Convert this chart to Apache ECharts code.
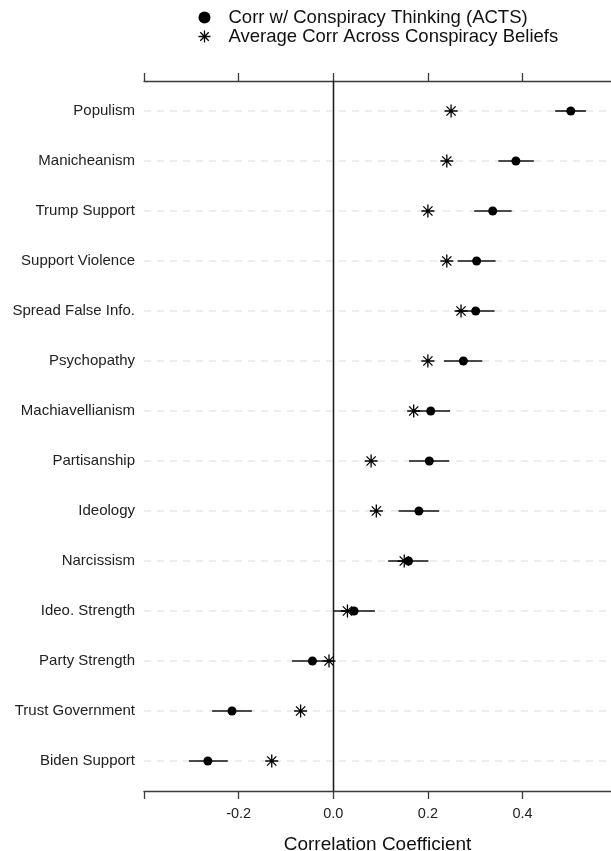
<!DOCTYPE html>
<html>
<head>
<meta charset="utf-8">
<script src="https://cdn.jsdelivr.net/npm/echarts@6/dist/echarts.min.js"></script>
<style>
  html, body { margin: 0; padding: 0; background: #fff; }
  #chart { width: 611px; height: 851px; }
</style>
</head>
<body>
<div id="chart"></div>
<script>
// Predictors, top to bottom
const categories = ['Populism', 'Manicheanism', 'Trump Support', 'Support Violence',
  'Spread False Info.', 'Psychopathy', 'Machiavellianism', 'Partisanship', 'Ideology',
  'Narcissism', 'Ideo. Strength', 'Party Strength', 'Trust Government', 'Biden Support'];

// Correlation with conspiracy thinking (ACTS) and its interval
const actsCorr = [0.502, 0.386, 0.337, 0.303, 0.301, 0.275, 0.206, 0.203, 0.181, 0.159, 0.044, -0.044, -0.214, -0.265];
const actsLow  = [0.469, 0.349, 0.298, 0.263, 0.261, 0.234, 0.166, 0.160, 0.138, 0.116, 0.000, -0.087, -0.256, -0.305];
const actsHigh = [0.534, 0.424, 0.377, 0.343, 0.341, 0.315, 0.247, 0.245, 0.224, 0.201, 0.088, -0.001, -0.172, -0.223];

// Average correlation across individual conspiracy beliefs
const avgCorr = [0.249, 0.240, 0.200, 0.240, 0.270, 0.200, 0.170, 0.080, 0.091, 0.150, 0.030, -0.009, -0.069, -0.130];

const xTicks = [-0.4, -0.2, 0.0, 0.2, 0.4];
const xTickLabels = [-0.2, 0.0, 0.2, 0.4];

const X_MIN = -0.4, X_MAX = 0.587;
const FONT = '"Liberation Sans", Arial, sans-serif';
const AXIS_COLOR = '#3a3a3a';
const STAR = 'path://M0,-10L0,10M-10,0L10,0M-7.07,-7.07L7.07,7.07M-7.07,7.07L7.07,-7.07';

const rows = categories.map((_, i) => i + 1);

const chart = echarts.init(document.getElementById('chart'), null, { renderer: 'canvas' });

const xAxisBase = {
  type: 'value', min: X_MIN, max: X_MAX,
  axisLine: { show: true, lineStyle: { color: AXIS_COLOR, width: 1.3 } },
  axisTick: { show: true, length: 8, customValues: xTicks, lineStyle: { color: AXIS_COLOR, width: 1.3 } },
  splitLine: { show: false }
};

chart.setOption({
  animation: false,
  backgroundColor: '#ffffff',
  textStyle: { fontFamily: FONT },
  grid: { left: 144, right: 0, top: 81, bottom: 60, containLabel: false, outerBoundsMode: 'none' },
  legend: {
    orient: 'vertical', left: 196, top: 8, itemGap: 0, padding: 0,
    itemWidth: 12, itemHeight: 12,
    textStyle: { fontSize: 18.5, lineHeight: 19, color: '#111', fontFamily: FONT, padding: [0, 0, 0, 13] },
    data: [
      { name: 'Corr w/ Conspiracy Thinking (ACTS)', icon: 'circle',
        itemStyle: { color: '#000', borderWidth: 0 } },
      { name: 'Average Corr Across Conspiracy Beliefs', icon: STAR,
        itemStyle: { color: 'none', borderColor: '#000', borderWidth: 1.3 } }
    ]
  },
  xAxis: [
    Object.assign({}, xAxisBase, {
      position: 'bottom',
      name: 'Correlation Coefficient', nameLocation: 'middle', nameGap: 44,
      nameTextStyle: { fontSize: 19, color: '#111', fontFamily: FONT },
      axisLabel: {
        show: true, customValues: xTickLabels, margin: 15, fontSize: 14.5, color: '#222',
        fontFamily: FONT, formatter: v => v.toFixed(1)
      }
    }),
    Object.assign({}, xAxisBase, {
      position: 'top',
      axisLabel: { show: false }
    })
  ],
  yAxis: {
    type: 'value', min: 0.4, max: 14.6, inverse: true,
    axisLine: { show: true, lineStyle: { color: AXIS_COLOR, width: 1.3 } },
    axisTick: { show: false },
    splitLine: { show: false },
    axisLabel: {
      show: true, customValues: rows, margin: 9, fontSize: 15, color: '#222', fontFamily: FONT,
      formatter: v => categories[Math.round(v) - 1] || ''
    }
  },
  series: [
    {
      // dashed row guides
      type: 'custom', silent: true, z: 1,
      data: rows.map(r => [r]),
      renderItem: (params, api) => {
        const y = api.coord([0, api.value(0)])[1];
        const x0 = api.coord([X_MIN, 1])[0];
        const x1 = api.coord([X_MAX, 1])[0];
        return {
          type: 'line',
          shape: { x1: x0, y1: y, x2: x1, y2: y },
          style: { stroke: '#dcdcdc', lineWidth: 1.2, lineDash: [7, 6] }
        };
      },
      markLine: {
        silent: true, symbol: ['none', 'none'], label: { show: false },
        lineStyle: { color: '#1a1a1a', width: 1.3, type: 'solid' },
        data: [{ xAxis: 0 }]
      }
    },
    {
      // interval bars
      type: 'custom', silent: true, z: 3,
      data: rows.map((r, i) => [actsLow[i], actsHigh[i], r]),
      renderItem: (params, api) => {
        const a = api.coord([api.value(0), api.value(2)]);
        const b = api.coord([api.value(1), api.value(2)]);
        return {
          type: 'line',
          shape: { x1: a[0], y1: a[1], x2: b[0], y2: b[1] },
          style: { stroke: '#111', lineWidth: 1.6 }
        };
      }
    },
    {
      name: 'Corr w/ Conspiracy Thinking (ACTS)',
      type: 'scatter', z: 4,
      symbol: 'circle', symbolSize: 9,
      itemStyle: { color: '#000', opacity: 1 },
      data: rows.map((r, i) => [actsCorr[i], r])
    },
    {
      name: 'Average Corr Across Conspiracy Beliefs',
      type: 'scatter', z: 5,
      symbol: STAR, symbolSize: 13,
      itemStyle: { color: 'none', borderColor: '#000', borderWidth: 1.3, opacity: 1 },
      data: rows.map((r, i) => [avgCorr[i], r])
    }
  ]
});
</script>
</body>
</html>
